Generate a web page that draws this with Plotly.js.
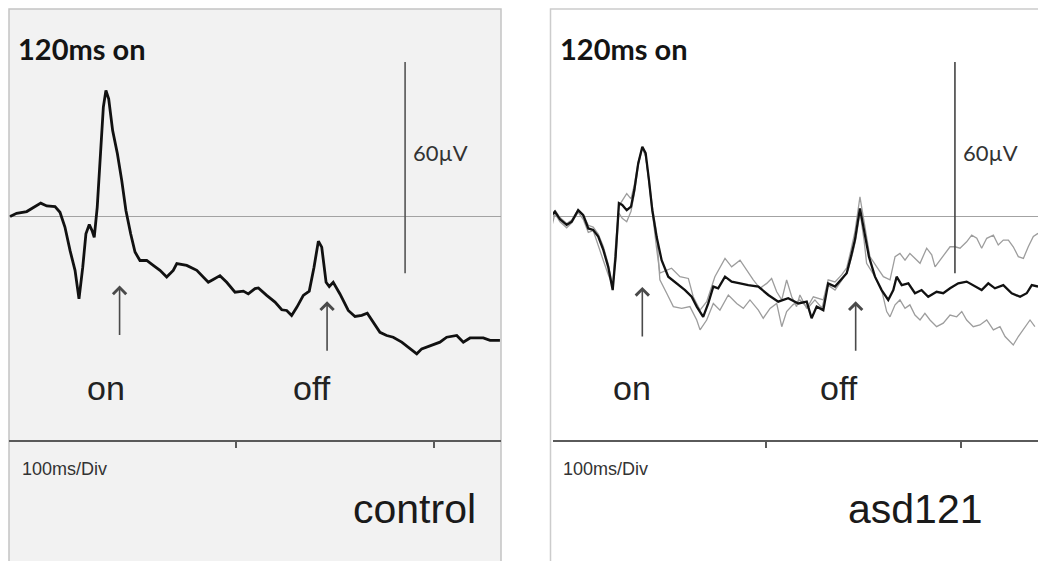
<!DOCTYPE html>
<html>
<head>
<meta charset="utf-8">
<script src="https://cdn.plot.ly/plotly-3.0.1.min.js"></script>
<style>html,body{margin:0;padding:0;background:#fff;}#chart{width:1038px;height:561px;}</style>
</head>
<body>
<div id="chart"></div>
<script>
// ---- data (time in ms, amplitude in µV) ----
const tControl = [-14.1,-10.8,-5.7,-2.4,1.4,4.4,8.6,11.1,13.6,16.2,18.7,20.7,22.6,24.2,25.9,27.3,28.4,29.9,31.7,33.0,34.3,35.7,37.7,40.1,42.3,44.4,46.8,49.0,51.5,54.9,58.2,61.6,65.0,68.3,70.1,75.1,80.2,82.7,86.0,88.5,91.9,95.3,99.5,103.7,106.2,109.6,111.3,115.5,119.7,123.1,125.6,128.1,130.7,134.0,137.0,139.4,141.6,143.3,145.5,147.1,149.1,152.5,156.7,160.1,163.5,166.3,169.3,172.7,176.1,179.4,183.7,187.9,191.3,193.8,198.8,203.0,206.4,211.5,214.8,218.2,224.9,228.3,233.3];
const vControl = [0.0,0.9,1.4,2.6,3.8,3.0,2.8,1.2,-3.0,-9.7,-15.3,-23.4,-14.4,-4.9,-2.3,-4.0,-5.9,2.6,19.7,31.1,35.8,33.4,24.4,17.8,10.2,1.7,-4.9,-10.1,-12.5,-12.5,-13.9,-15.3,-17.2,-15.3,-13.4,-13.9,-15.3,-16.8,-18.7,-17.9,-16.8,-18.7,-21.5,-21.2,-22.0,-20.5,-20.3,-22.4,-24.3,-26.5,-26.7,-28.1,-25.8,-22.4,-21.2,-14.4,-7.0,-8.7,-18.7,-19.9,-18.7,-22.0,-26.7,-28.4,-28.1,-27.5,-30.0,-32.9,-33.8,-34.3,-35.7,-37.6,-39.0,-37.6,-36.6,-35.7,-34.3,-33.8,-35.7,-34.5,-34.5,-35.2,-35.2];

const tAsdMean = [-9.9,-8.2,-5.6,-2.2,0.4,3.7,6.3,8.9,11.4,14.0,16.6,19.1,21.4,22.9,24.6,26.3,28.6,30.8,32.5,34.5,36.6,38.3,40.0,41.7,43.9,46.5,49.9,54.2,58.5,61.9,64.5,67.8,70.4,73.0,75.5,79.0,82.4,86.7,90.9,96.1,101.2,106.3,111.4,116.6,120.9,123.4,126.0,129.4,131.9,135.4,138.8,141.4,143.6,145.6,148.2,150.4,152.8,155.9,159.3,162.7,165.3,167.0,169.6,173.0,176.4,179.8,183.2,187.5,190.9,194.4,198.6,202.9,207.2,210.6,214.0,217.4,221.7,226.0,230.3,233.7,236.3,239.5];
const vAsdMean = [0.4,1.4,-0.8,-2.4,-1.5,1.8,0.4,-3.4,-3.8,-5.7,-9.5,-14.3,-20.9,-11.4,3.8,3.3,1.8,2.8,7.5,15.1,19.8,18.0,10.4,1.8,-5.7,-12.4,-17.1,-19.0,-20.9,-22.8,-25.6,-28.5,-24.7,-19.9,-20.4,-17.1,-18.5,-19.0,-19.5,-19.9,-22.3,-24.2,-23.2,-24.7,-24.2,-28.9,-25.6,-26.6,-19.0,-19.9,-17.6,-16.1,-11.4,-6.7,2.3,-3.8,-11.4,-17.1,-20.9,-23.7,-20.9,-17.1,-19.5,-19.0,-21.8,-20.9,-22.8,-21.4,-21.8,-20.4,-19.0,-18.5,-19.9,-20.9,-19.0,-20.4,-19.5,-21.8,-22.8,-21.8,-19.5,-19.9];

const tAsdUpper = [-9.9,-8.2,-5.6,-2.2,0.4,3.7,6.3,8.9,11.4,14.0,16.6,19.1,21.4,22.9,24.6,26.3,28.6,30.8,32.5,34.5,36.6,38.3,40.0,41.7,43.9,45.6,51.6,55.9,60.2,62.7,66.2,69.6,73.8,79.0,82.4,86.7,90.1,93.5,96.9,100.4,102.9,105.5,108.1,110.6,113.2,115.7,117.4,120.9,124.3,129.4,131.9,135.4,138.8,141.4,143.6,145.6,148.2,150.4,153.3,156.8,160.2,163.6,166.2,168.7,171.3,173.8,176.4,179.0,182.4,185.0,186.7,189.2,191.8,194.4,196.9,199.5,202.9,205.5,208.1,210.6,213.2,216.6,219.1,221.7,224.3,226.8,229.4,232.0,234.5,237.1,239.5];
const vAsdUpper = [-3.0,0.8,-1.5,-3.2,-1.8,1.2,-0.8,-4.5,-4.0,-8.0,-12.5,-16.5,-19.5,-8.0,3.0,4.5,6.5,5.0,9.0,15.5,19.5,17.5,9.5,0.0,-9.0,-16.1,-14.7,-17.1,-17.6,-22.8,-26.6,-24.2,-17.1,-11.9,-14.3,-12.4,-15.2,-18.0,-20.4,-19.0,-17.6,-21.4,-23.7,-18.0,-22.8,-25.6,-22.3,-26.1,-22.8,-23.7,-18.0,-18.6,-16.6,-14.6,-9.5,-4.4,5.6,-1.6,-11.4,-14.3,-17.1,-18.0,-11.4,-10.5,-12.4,-10.5,-11.9,-13.3,-9.0,-10.9,-14.3,-12.4,-10.5,-8.6,-8.6,-9.0,-7.2,-5.3,-6.2,-9.0,-6.2,-5.3,-8.1,-6.7,-6.7,-8.6,-11.4,-11.9,-8.6,-5.7,-4.8];

const tAsdLower = [-9.9,-8.2,-5.6,-2.2,0.4,3.7,6.3,8.9,11.4,14.0,16.6,19.1,21.4,22.9,24.6,26.3,28.6,30.8,32.5,34.5,36.6,38.3,40.0,41.7,43.9,45.6,49.1,52.5,56.8,61.0,64.5,66.2,69.6,73.0,76.4,80.7,85.0,88.4,91.8,96.1,98.6,102.1,105.5,108.1,110.6,113.8,117.4,121.5,125.1,128.7,131.8,135.4,139.0,142.1,144.6,146.2,148.2,150.3,151.6,155.9,159.3,161.9,163.6,166.2,168.7,171.3,173.8,176.4,179.0,181.5,184.1,187.5,190.9,194.4,197.8,200.4,202.9,206.3,209.7,213.2,216.6,220.0,222.6,226.8,229.4,232.8,235.4,237.9];
const vAsdLower = [-1.0,1.8,-0.3,-2.0,-1.0,2.0,0.5,-2.5,-3.0,-5.0,-8.5,-13.5,-20.0,-12.5,1.0,-0.5,-1.5,1.5,6.5,14.5,19.5,17.0,10.5,3.0,-4.5,-18.0,-21.8,-25.6,-26.1,-25.6,-29.4,-32.2,-29.4,-24.7,-26.6,-22.3,-24.7,-26.1,-23.7,-26.6,-28.9,-26.1,-24.7,-31.3,-27.0,-25.1,-23.7,-26.0,-23.7,-26.0,-19.5,-20.9,-18.0,-15.2,-10.1,-6.1,1.3,-6.7,-13.3,-17.1,-20.9,-27.0,-28.5,-25.1,-23.7,-26.1,-25.1,-28.0,-29.4,-27.5,-29.4,-31.3,-30.3,-28.0,-28.5,-27.0,-29.4,-31.3,-30.8,-29.4,-32.2,-31.3,-34.1,-36.5,-34.1,-31.3,-29.4,-31.3];

const tickTimes = [100, 200];          // ms, 100ms/Div
const scaleBarUV = [-16.1, 43.9];      // 60 µV bar
const scaleBarTimeLeft = 185.4;
const scaleBarTimeRight = 196.9;
const arrowOn  = {left: [41.2, -19.6], right: [36.6, -20.0]};
const arrowOff = {left: [146.0, -24.1], right: [146.0, -24.1]};
const panelTitles = ['control', 'asd121'];

// ---- layout helpers ----
const W = 1038, H = 561;
const px = x => x / W;
const py = y => 1 - y / H;

const traces = [
  {x: tControl, y: vControl, xaxis: 'x', yaxis: 'y', mode: 'lines',
   line: {color: '#111', width: 2.8}, hoverinfo: 'skip'},
  {x: tAsdUpper, y: vAsdUpper, xaxis: 'x2', yaxis: 'y2', mode: 'lines',
   line: {color: '#9d9d9d', width: 1.3}, hoverinfo: 'skip'},
  {x: tAsdLower, y: vAsdLower, xaxis: 'x2', yaxis: 'y2', mode: 'lines',
   line: {color: '#9d9d9d', width: 1.3}, hoverinfo: 'skip'},
  {x: tAsdMean, y: vAsdMean, xaxis: 'x2', yaxis: 'y2', mode: 'lines',
   line: {color: '#111', width: 2.3}, hoverinfo: 'skip'}
];

const xCommon = {
  anchor: 'free', position: (H - 441) / H, showgrid: false, zeroline: false,
  showline: true, linecolor: '#5a5a5a', linewidth: 2,
  ticks: 'outside', tickvals: tickTimes, ticklen: 6, tickwidth: 1.5, tickcolor: '#5a5a5a',
  showticklabels: false, fixedrange: true
};
const yCommon = {
  range: [(216.5 - H) / 3.52, 216.5 / 3.52], domain: [0, 1],
  showgrid: false, showline: false, ticks: '', showticklabels: false,
  zeroline: true, zerolinecolor: '#a3a3a3', zerolinewidth: 1.5, fixedrange: true
};

const fontLato = 'Lato, "Open Sans", sans-serif';
const fontArial = '"Liberation Sans", Arial, sans-serif';

function txt(x, y, text, size, opts) {
  return Object.assign({xref: 'paper', yref: 'paper', x: px(x), y: py(y), text: text,
    showarrow: false, xanchor: 'left', yanchor: 'middle',
    font: {family: fontArial, size: size, color: '#1a1a1a'}}, opts || {});
}
function arrow(xr, yr, t, v) {
  return {xref: xr, yref: yr, x: t, y: v, text: '', showarrow: true,
    axref: 'pixel', ayref: 'pixel', ax: 0, ay: 51,
    arrowhead: 4, arrowsize: 1.6, arrowwidth: 1.6, arrowcolor: '#4a4a4a', standoff: 0};
}

const layout = {
  width: W, height: H, margin: {l: 0, r: 0, t: 0, b: 0},
  paper_bgcolor: '#ffffff', plot_bgcolor: 'rgba(0,0,0,0)', showlegend: false,
  xaxis: Object.assign({}, xCommon, {domain: [px(9), px(501)], range: [-14.65, 233.84]}),
  yaxis: Object.assign({}, yCommon, {anchor: 'x'}),
  xaxis2: Object.assign({}, xCommon, {domain: [px(553), 1], range: [-9.2, 239.49]}),
  yaxis2: Object.assign({}, yCommon, {anchor: 'x2'}),
  shapes: [
    {type: 'rect', xref: 'paper', yref: 'paper', x0: px(9), x1: px(501), y0: py(9), y1: py(575),
     fillcolor: '#f2f2f2', line: {color: '#c4c4c4', width: 1.5}, layer: 'below'},
    {type: 'rect', xref: 'paper', yref: 'paper', x0: px(550.5), x1: px(1050), y0: py(9), y1: py(575),
     fillcolor: '#ffffff', line: {color: '#cccccc', width: 1.5}, layer: 'below'},
    {type: 'line', xref: 'x', yref: 'y', x0: scaleBarTimeLeft, x1: scaleBarTimeLeft,
     y0: scaleBarUV[0], y1: scaleBarUV[1], line: {color: '#555', width: 1.6}},
    {type: 'line', xref: 'x2', yref: 'y2', x0: scaleBarTimeRight, x1: scaleBarTimeRight,
     y0: scaleBarUV[0], y1: scaleBarUV[1], line: {color: '#444', width: 1.6}}
  ],
  annotations: [
    txt(16, 48, '<b>120ms on</b>', 29, {font: {family: fontLato, size: 29, color: '#141414'}}),
    txt(558, 48, '<b>120ms on</b>', 29, {font: {family: fontLato, size: 29, color: '#141414'}}),
    txt(411, 152, '60µV', 22, {font: {family: fontLato, size: 22, color: '#333'}}),
    txt(961, 152, '60µV', 22, {font: {family: fontLato, size: 22, color: '#333'}}),
    txt(85, 388, 'on', 34, {font: {family: fontArial, size: 34, color: '#222'}}),
    txt(291, 388, 'off', 34, {font: {family: fontArial, size: 34, color: '#222'}}),
    txt(611, 388, 'on', 34, {font: {family: fontArial, size: 34, color: '#222'}}),
    txt(818, 388, 'off', 34, {font: {family: fontArial, size: 34, color: '#222'}}),
    txt(20, 469, '100ms/Div', 18, {font: {family: fontArial, size: 18, color: '#333'}}),
    txt(561, 469, '100ms/Div', 18, {font: {family: fontArial, size: 18, color: '#333'}}),
    txt(351, 509, panelTitles[0], 41, {font: {family: fontArial, size: 41, color: '#1a1a1a'}}),
    txt(846, 509, panelTitles[1], 41, {font: {family: fontArial, size: 41, color: '#1a1a1a'}}),
    arrow('x', 'y', arrowOn.left[0], arrowOn.left[1]),
    arrow('x', 'y', arrowOff.left[0], arrowOff.left[1]),
    arrow('x2', 'y2', arrowOn.right[0], arrowOn.right[1]),
    arrow('x2', 'y2', arrowOff.right[0], arrowOff.right[1])
  ]
};

Plotly.newPlot('chart', traces, layout, {staticPlot: true, displayModeBar: false});
</script>
</body>
</html>
